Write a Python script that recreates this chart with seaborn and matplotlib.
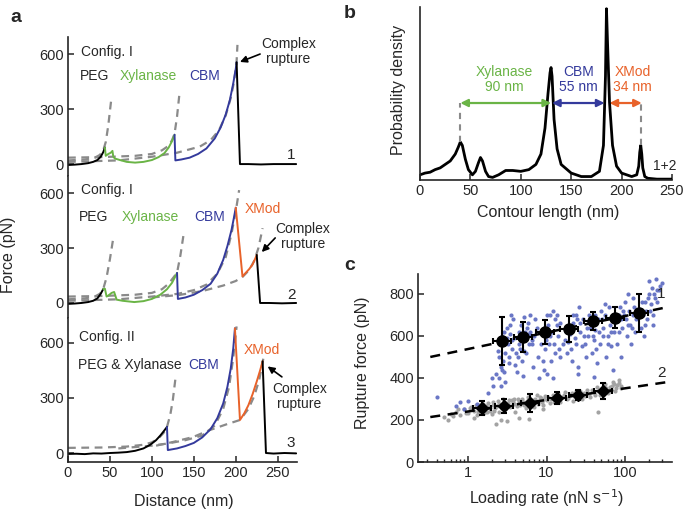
import numpy as np
import matplotlib
matplotlib.use('Agg')
import matplotlib.pyplot as plt
from matplotlib.ticker import LogLocator, NullFormatter, FixedLocator, FixedFormatter
import seaborn as sns

sns.set_style('ticks')
plt.rcParams['font.family'] = ['Liberation Sans', 'DejaVu Sans']

GREEN = '#6ab446'
BLUE = '#343a9c'
ORANGE = '#e8622a'
DASH = '#8a8a8a'
SC_BLUE = '#6a77c6'
SC_GRAY = '#a3a3a3'

# ---------------- panel a: force-distance traces (nm, pN) ----------------
# trace 1, Config. I
t1_peg_x = [0, 8, 16, 24, 30, 35, 39, 42, 44]
t1_peg_y = [-5, -3, 0, 5, 12, 22, 40, 65, 90]
t1_xyl_x = [44, 45, 48, 51, 53, 54, 56, 62, 70, 80, 90, 100, 108, 115, 120, 124, 127]
t1_xyl_y = [90, 45, 55, 62, 72, 40, 30, 22, 12, 8, 12, 22, 38, 60, 90, 125, 160]
t1_cbm_x = [127, 128, 135, 145, 155, 165, 175, 182, 188, 193, 197, 200, 201]
t1_cbm_y = [160, 20, 25, 35, 55, 85, 140, 200, 270, 350, 440, 520, 555]
t1_end_x = [201, 205, 215, 230, 245, 260, 272]
t1_end_y = [555, 0, 0, -2, 0, 0, 0]
t1_fits = [
    ([0, 20, 32, 38, 42, 45, 48, 52], [20, 25, 35, 50, 75, 120, 210, 370]),
    ([0, 40, 80, 100, 112, 120, 124, 127, 130, 133], [35, 38, 45, 55, 75, 100, 130, 165, 260, 390]),
    ([0, 60, 100, 130, 157, 170, 180, 188, 194, 198, 201, 202], [12, 20, 40, 62, 95, 130, 185, 265, 360, 450, 560, 650]),
]

# trace 2, Config. I
t2_peg_x = [0, 8, 16, 24, 30, 35, 39, 42]
t2_peg_y = [-5, -3, 0, 5, 12, 25, 50, 76]
t2_xyl_x = [42, 44, 46, 48, 52, 55, 58, 65, 79, 90, 100, 110, 118, 124, 128, 130]
t2_xyl_y = [76, 78, 35, 40, 55, 60, 18, 12, 5, 10, 22, 45, 75, 110, 145, 164]
t2_cbm_x = [130, 131, 140, 150, 160, 170, 178, 185, 190, 195, 198, 200]
t2_cbm_y = [164, 22, 30, 45, 70, 105, 160, 235, 310, 400, 470, 520]
t2_xmod_x = [200, 208, 212, 216, 220, 223, 225]
t2_xmod_y = [520, 145, 165, 185, 210, 240, 262]
t2_end_x = [225, 229, 240, 255, 272]
t2_end_y = [262, 0, 0, -2, 0]
t2_fits = [
    ([0, 20, 32, 38, 42, 46, 50, 54], [20, 25, 35, 50, 76, 140, 240, 355]),
    ([0, 40, 80, 100, 112, 120, 125, 130, 134, 138], [35, 38, 45, 55, 75, 105, 135, 165, 260, 380]),
    ([0, 60, 100, 131, 150, 165, 178, 188, 195, 200, 204], [12, 20, 35, 50, 70, 100, 160, 250, 380, 500, 616]),
    ([100, 133, 160, 185, 200, 208, 216, 222, 227, 232], [30, 44, 65, 95, 120, 142, 180, 230, 300, 408]),
]

# trace 3, Config. II
t3_px_x = [0, 10, 20, 30, 40, 50, 60, 70, 80, 90, 98, 105, 110, 114, 118]
t3_px_y = [-5, -4, -6, -2, -3, 0, 2, 5, 12, 25, 45, 70, 95, 118, 142]
t3_cbm_x = [118, 119, 130, 140, 150, 160, 170, 178, 185, 190, 194, 197, 199]
t3_cbm_y = [142, 16, 25, 38, 55, 85, 130, 190, 270, 360, 460, 570, 680]
t3_xmod_x = [199, 205, 210, 215, 220, 225, 229, 232]
t3_xmod_y = [680, 180, 215, 260, 320, 390, 450, 500]
t3_end_x = [232, 236, 245, 258, 272]
t3_end_y = [500, 0, -3, 0, -2]
t3_fits = [
    ([0, 40, 70, 90, 100, 108, 114, 118, 122, 125, 128], [28, 30, 35, 45, 58, 80, 110, 142, 210, 290, 403]),
    ([60, 100, 119, 140, 160, 175, 185, 192, 197, 201], [25, 40, 52, 70, 95, 150, 240, 360, 520, 690]),
    ([105, 125, 149, 169, 190, 205, 215, 222, 228, 233], [40, 60, 87, 125, 158, 180, 240, 310, 400, 518]),
]

# ---------------- panel b: contour length histogram ----------------
b_x = [0, 5, 10, 15, 20, 25, 30, 35, 38, 40, 42, 45, 48, 52, 55, 58, 60, 62, 65, 68, 72, 78, 85,
       92, 100, 108, 115, 120, 124, 127, 129, 130, 131, 133, 136, 140, 150, 160, 170, 178, 182,
       184, 185, 186, 188, 191, 195, 200, 210, 215, 217, 218, 219, 220, 221, 223, 226, 235, 250]
b_y = [0.03, 0.04, 0.045, 0.06, 0.07, 0.09, 0.11, 0.15, 0.19, 0.22, 0.2, 0.12, 0.06, 0.03, 0.05,
       0.1, 0.13, 0.11, 0.05, 0.02, 0.015, 0.03, 0.055, 0.055, 0.05, 0.06, 0.09, 0.15, 0.3, 0.5,
       0.62, 0.65, 0.6, 0.35, 0.18, 0.09, 0.04, 0.02, 0.02, 0.05, 0.2, 0.6, 0.99, 0.8, 0.45, 0.2,
       0.08, 0.04, 0.02, 0.03, 0.08, 0.16, 0.2, 0.15, 0.07, 0.02, 0.01, 0.005, 0.005]
b_segments = [(40, 130, 'Xylanase\n90 nm'), (131, 183, 'CBM\n55 nm'), (188, 220, 'XMod\n34 nm')]

# ---------------- panel c: rupture force vs loading rate ----------------
blue_x = [2.3, 2.5, 2.6, 2.8, 3.0, 3.2, 2.7, 3.1, 3.4, 3.6, 3.3, 2.9, 3.7, 3.5, 2.4, 3.8, 3.0, 2.6,
          4.0, 4.3, 4.6, 5.0, 5.3, 5.8, 6.2, 4.8, 5.5, 6.5, 7.0, 7.5, 4.2, 6.8, 7.8, 5.2, 4.5, 6.0,
          9, 9.5, 10, 10.5, 11, 12, 12.5, 13, 14, 15, 9.2, 11.5, 13.5, 16, 10, 15,
          18, 19, 20, 22, 24, 26, 21, 28, 30, 33, 25, 32, 35, 23, 27,
          38, 40, 42, 45, 50, 55, 48, 60, 65, 70, 44, 58, 62, 52, 67,
          80, 85, 90, 95, 100, 110, 105, 115, 125, 130, 88, 120, 135, 98,
          160, 170, 180, 200, 220, 250, 190, 210, 240, 260, 175, 230, 280, 205,
          0.4, 0.7, 0.8, 1.0, 0.9, 1.3, 1.8, 2.0, 2.1, 5, 8, 12, 25, 70, 40,
          2.5, 2.8, 3.1, 3.4, 2.9, 3.3, 2.7, 3.6,
          4.1, 4.4, 4.9, 5.6, 6.1, 6.6, 7.2, 5.1, 5.9, 4.7,
          8.5, 9.8, 10.8, 11.8, 12.8, 13.8, 9.4, 10.2, 11.2, 14.5,
          17, 19.5, 21.5, 23.5, 26.5, 29, 31, 34, 20.5, 24.5,
          36, 39, 43, 47, 51, 56, 61, 66, 41, 53,
          72, 78, 83, 92, 102, 112, 122, 140, 87, 108,
          128, 150, 165, 185, 195, 215, 235, 255, 270, 300, 182, 225]
blue_y = [420, 400, 450, 480, 520, 560, 600, 640, 610, 540, 470, 430, 680, 700, 530, 590, 380, 360,
          460, 500, 540, 580, 620, 660, 700, 480, 520, 560, 600, 640, 430, 450, 500, 690, 620, 610,
          480, 540, 600, 650, 700, 720, 560, 520, 600, 660, 440, 480, 700, 560, 420, 500,
          520, 570, 610, 660, 700, 740, 480, 550, 600, 640, 450, 500, 700, 590, 620,
          520, 580, 630, 680, 720, 750, 560, 600, 650, 700, 470, 500, 740, 640, 550,
          560, 620, 680, 720, 760, 800, 600, 650, 700, 740, 500, 560, 620, 700,
          640, 700, 760, 800, 830, 870, 680, 720, 780, 820, 600, 650, 840, 860,
          310, 265, 285, 290, 250, 275, 330, 400, 360, 410, 400, 400, 420, 440, 405,
          500, 560, 590, 650, 620, 500, 440, 580,
          520, 560, 600, 640, 620, 580, 680, 530, 560, 650,
          560, 580, 560, 620, 680, 650, 640, 700, 600, 540,
          580, 640, 700, 560, 660, 680, 560, 600, 540, 680,
          640, 600, 540, 620, 680, 700, 560, 620, 700, 600,
          620, 680, 700, 640, 680, 720, 640, 680, 740, 650,
          780, 700, 760, 720, 780, 750, 800, 760, 820, 850, 650, 700]
gray_x = [0.5, 0.6, 0.7, 0.8, 0.9, 1.0, 1.1, 1.2, 1.3, 1.4, 1.5, 1.6, 1.7, 1.8, 1.9, 2.0, 2.1, 2.2,
          2.4, 2.5, 2.6, 2.8, 3.0, 3.2, 3.4, 3.6, 3.8, 4.0, 4.3, 4.6, 5.0, 5.4, 5.8, 6.2, 6.6, 7.0,
          7.5, 8.0, 8.5, 9.0, 9.5, 10, 11, 12, 13, 14, 15, 16, 17, 18, 20, 22, 24, 26, 28, 30, 33,
          36, 40, 44, 48, 52, 56, 60, 65, 70, 75, 80, 85, 90,
          2.3, 2.6, 3.1, 4.5, 6.0, 45, 1.2, 0.55, 9,
          0.65, 0.75, 0.95, 1.05, 1.25, 1.35, 1.45, 1.55, 1.65, 1.75, 1.85,
          2.05, 2.15, 2.35, 2.45, 2.7, 2.9, 3.1, 3.3, 3.5, 3.7, 3.9,
          4.2, 4.4, 4.8, 5.2, 5.6, 6.0, 6.4, 6.8, 7.2, 7.8, 8.3, 8.8, 9.3,
          10.5, 11.5, 12.5, 13.5, 14.5, 16.5, 19, 21, 23, 25, 27,
          31, 35, 38, 42, 46, 50, 54, 58, 63, 68, 73, 78, 83, 88]
gray_y = [215, 230, 240, 225, 250, 235, 260, 245, 225, 270, 250, 235, 265, 280, 245, 230, 270, 255,
          290, 240, 265, 300, 250, 280, 260, 295, 275, 240, 300, 270, 285, 255, 310, 275, 295, 260,
          320, 290, 305, 270, 315, 295, 280, 320, 300, 330, 285, 310, 335, 300, 320, 290, 340, 315,
          300, 330, 345, 310, 335, 355, 320, 345, 370, 330, 355, 380, 340, 365, 390, 350,
          180, 200, 195, 210, 205, 240, 210, 200, 250,
          220, 250, 235, 255, 270, 240, 255, 275, 250, 240, 260,
          285, 245, 265, 275, 255, 285, 270, 295, 265, 285, 300,
          265, 290, 300, 270, 290, 305, 265, 285, 300, 275, 310, 285, 300,
          310, 300, 285, 315, 305, 320, 305, 330, 310, 325, 340,
          315, 325, 345, 320, 340, 330, 360, 350, 340, 360, 370, 350, 375, 360]

mean1_x = [2.7, 5.0, 9.6, 19.4, 39, 74, 151]
mean1_y = [576, 595, 619, 633, 671, 686, 710]
mean1_err = [112, 70, 55, 63, 43, 50, 90]
mean2_x = [1.5, 2.9, 6.2, 13.5, 25.2, 52]
mean2_y = [257, 267, 281, 305, 319, 338]
mean2_err = [35, 35, 43, 30, 25, 36]
fit1_x = [0.33, 354]
fit1_y = [500, 738]
fit2_x = [0.33, 354]
fit2_y = [214, 381]

# ---------------- layout helpers ----------------
W, H = 685, 511
fig = plt.figure(figsize=(W / 100, H / 100), dpi=100)


def px_axes(left, top, right, bottom):
    return fig.add_axes([left / W, 1 - bottom / H, (right - left) / W, (bottom - top) / H])


def style(ax, size=10.5):
    sns.despine(ax=ax)
    ax.tick_params(direction='in', length=4, width=1.1, labelsize=size, pad=3)
    for s in ('left', 'bottom'):
        ax.spines[s].set_linewidth(1.2)


def trace(ax, x, y, color, lw=1.4):
    sns.lineplot(x=x, y=y, ax=ax, color=color, lw=lw, sort=False, estimator=None)


def fit(ax, x, y):
    sns.lineplot(x=x, y=y, ax=ax, color=DASH, lw=1.6, sort=False, estimator=None, dashes=False,
                 linestyle=(0, (3.5, 2.5)))


# ---------------- panel a ----------------
a_boxes = [(37, 176, (-65, 693)), (176, 318, (-82, 693)), (318, 462, (-49, 736))]
axes_a = []
for top, bottom, ylim in a_boxes:
    ax = px_axes(68, top, 297, bottom)
    ax.set_xlim(0, 273)
    ax.set_ylim(*ylim)
    ax.set_yticks([0, 300, 600])
    style(ax)
    axes_a.append(ax)

ax1, ax2, ax3 = axes_a
for ax in (ax1, ax2):
    ax.spines['bottom'].set_visible(False)
    ax.set_xticks([])
ax3.set_xticks([0, 50, 100, 150, 200, 250])

for fx, fy in t1_fits:
    fit(ax1, fx, fy)
trace(ax1, t1_peg_x, t1_peg_y, 'k')
trace(ax1, t1_xyl_x, t1_xyl_y, GREEN)
trace(ax1, t1_cbm_x, t1_cbm_y, BLUE)
trace(ax1, t1_end_x, t1_end_y, 'k')

for fx, fy in t2_fits:
    fit(ax2, fx, fy)
trace(ax2, t2_peg_x, t2_peg_y, 'k')
trace(ax2, t2_xyl_x, t2_xyl_y, GREEN)
trace(ax2, t2_cbm_x, t2_cbm_y, BLUE)
trace(ax2, t2_xmod_x, t2_xmod_y, ORANGE)
trace(ax2, t2_end_x, t2_end_y, 'k')

for fx, fy in t3_fits:
    fit(ax3, fx, fy)
trace(ax3, t3_px_x, t3_px_y, 'k')
trace(ax3, t3_cbm_x, t3_cbm_y, BLUE)
trace(ax3, t3_xmod_x, t3_xmod_y, ORANGE)
trace(ax3, t3_end_x, t3_end_y, 'k')

fs = 10
arrow = dict(arrowstyle='-|>', color='k', lw=1.2, mutation_scale=10, shrinkA=0, shrinkB=0)

ax1.text(16, 611, 'Config. I', fontsize=fs, va='center')
ax1.text(14, 480, 'PEG', fontsize=fs, va='center')
ax1.text(96, 480, 'Xylanase', fontsize=fs, va='center', ha='center', color=GREEN)
ax1.text(163, 480, 'CBM', fontsize=fs, va='center', ha='center', color=BLUE)
ax1.text(263, 612, 'Complex\nrupture', fontsize=fs, va='center', ha='center', linespacing=1.1,
         clip_on=False)
ax1.annotate('', xy=(205, 557), xytext=(229, 600), arrowprops=arrow, annotation_clip=False)
ax1.text(266, 49, '1', fontsize=11, ha='center', va='center')

ax2.text(16, 616, 'Config. I', fontsize=fs, va='center')
ax2.text(13, 469, 'PEG', fontsize=fs, va='center')
ax2.text(98, 469, 'Xylanase', fontsize=fs, va='center', ha='center', color=GREEN)
ax2.text(169, 469, 'CBM', fontsize=fs, va='center', ha='center', color=BLUE)
ax2.text(232, 513, 'XMod', fontsize=fs, va='center', ha='center', color=ORANGE)
ax2.text(280, 362, 'Complex\nrupture', fontsize=fs, va='center', ha='center', linespacing=1.1,
         clip_on=False)
ax2.annotate('', xy=(231, 278), xytext=(247, 355), arrowprops=arrow, annotation_clip=False)
ax2.text(266, 44, '2', fontsize=11, ha='center', va='center')

ax3.text(13, 633, 'Config. II', fontsize=fs, va='center')
ax3.text(12, 480, 'PEG & Xylanase', fontsize=fs, va='center')
ax3.text(162, 480, 'CBM', fontsize=fs, va='center', ha='center', color=BLUE)
ax3.text(231, 562, 'XMod', fontsize=fs, va='center', ha='center', color=ORANGE)
ax3.text(276, 306, 'Complex\nrupture', fontsize=fs, va='center', ha='center', linespacing=1.1,
         clip_on=False)
ax3.annotate('', xy=(238, 472), xytext=(255, 415), arrowprops=arrow, annotation_clip=False)
ax3.text(266, 55, '3', fontsize=11, ha='center', va='center')

fig.text(9 / W, 1 - 255 / H, 'Force (pN)', fontsize=11.5, rotation=90, ha='center', va='center')
fig.text(184 / W, 1 - 501 / H, 'Distance (nm)', fontsize=11.5, ha='center', va='center')
fig.text(10 / W, 1 - 18 / H, 'a', fontsize=14, fontweight='bold', va='center')

# ---------------- panel b ----------------
axb = px_axes(420, 7, 672, 180)
axb.set_xlim(0, 250)
axb.set_ylim(0, 1.0)
style(axb)
axb.set_yticks([])
axb.set_xticks([0, 50, 100, 150, 200, 250])
sns.lineplot(x=b_x, y=b_y, ax=axb, color='k', lw=2, sort=False, estimator=None)
lvl = 0.445
axb.plot([40, 40], [0.22, lvl], color=DASH, lw=1.5, ls=(0, (3, 2.5)))
axb.plot([219, 219], [0.2, lvl], color=DASH, lw=1.5, ls=(0, (3, 2.5)))
for (x0, x1, lab), col in zip(b_segments, [GREEN, BLUE, ORANGE]):
    axb.annotate('', xy=(x1, lvl), xytext=(x0, lvl),
                 arrowprops=dict(arrowstyle='<|-|>', color=col, lw=1.6, mutation_scale=11,
                                 shrinkA=0, shrinkB=0))
axb.text(84, 0.58, b_segments[0][2], color=GREEN, fontsize=fs, ha='center', va='center',
         linespacing=1.15)
axb.text(157, 0.58, b_segments[1][2], color=BLUE, fontsize=fs, ha='center', va='center',
         linespacing=1.15)
axb.text(211, 0.58, b_segments[2][2], color=ORANGE, fontsize=fs, ha='center', va='center',
         linespacing=1.15)
axb.text(243, 0.08, '1+2', fontsize=fs, ha='center', va='center')
fig.text(398 / W, 1 - 90 / H, 'Probability density', fontsize=11.5, rotation=90,
         ha='center', va='center')
fig.text(548 / W, 1 - 213 / H, 'Contour length (nm)', fontsize=11.5, ha='center', va='center')
fig.text(344 / W, 1 - 14 / H, 'b', fontsize=14, fontweight='bold', va='center')

# ---------------- panel c ----------------
axc = px_axes(418, 274, 672, 462)
axc.set_xscale('log')
axc.set_xlim(0.23, 398)
axc.set_ylim(0, 895)
style(axc)
axc.set_yticks([0, 200, 400, 600, 800])
axc.xaxis.set_major_locator(FixedLocator([1, 10, 100]))
axc.xaxis.set_major_formatter(FixedFormatter(['1', '10', '100']))
axc.xaxis.set_minor_locator(LogLocator(base=10, subs=np.arange(2, 10)))
axc.xaxis.set_minor_formatter(NullFormatter())
axc.tick_params(which='minor', direction='in', length=2.5, width=1.0)

sns.scatterplot(x=gray_x, y=gray_y, ax=axc, color=SC_GRAY, s=9, linewidth=0)
sns.scatterplot(x=blue_x, y=blue_y, ax=axc, color=SC_BLUE, s=9, linewidth=0)
axc.plot(fit1_x, fit1_y, color='k', lw=1.8, ls=(0, (4, 3)))
axc.plot(fit2_x, fit2_y, color='k', lw=1.8, ls=(0, (4, 3)))
m1x = np.array(mean1_x)
m2x = np.array(mean2_x)
axc.errorbar(m1x, mean1_y, yerr=mean1_err, xerr=[m1x - m1x / 1.3, m1x * 0.3], fmt='o',
             color='k', ms=8, capsize=2.5, elinewidth=1.5, capthick=1.5)
axc.errorbar(m2x, mean2_y, yerr=mean2_err, xerr=[m2x - m2x / 1.3, m2x * 0.3], fmt='D',
             color='k', ms=6, capsize=2.5, elinewidth=1.5, capthick=1.5)
axc.text(290, 800, '1', fontsize=11, ha='center', va='center')
axc.text(290, 425, '2', fontsize=11, ha='center', va='center')
fig.text(362 / W, 1 - 363 / H, 'Rupture force (pN)', fontsize=11.5, rotation=90,
         ha='center', va='center')
fig.text(547 / W, 1 - 504 / H, 'Loading rate (nN s$^{-1}$)', fontsize=11.5,
         ha='center', va='baseline')
fig.text(344 / W, 1 - 266 / H, 'c', fontsize=14, fontweight='bold', va='center')

fig.savefig('out.png', dpi=100)
